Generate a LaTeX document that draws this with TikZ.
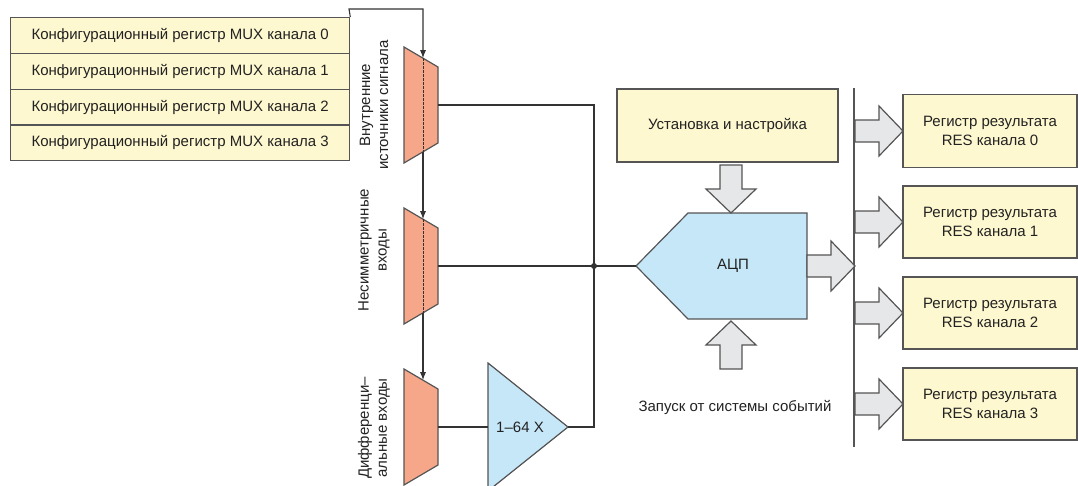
\documentclass[tikz,border=0pt]{standalone}
\usepackage{fontspec}
\setmainfont{Liberation Sans}
\usetikzlibrary{arrows.meta}
\definecolor{regY}{HTML}{FEF8D0}
\definecolor{muxR}{HTML}{F7A789}
\definecolor{adcB}{HTML}{C6E7F8}
\definecolor{arrG}{HTML}{E6E7E9}
\definecolor{lineK}{HTML}{333333}
\definecolor{edgeK}{HTML}{555555}
\definecolor{txtK}{HTML}{222222}
\tikzset{
  reg/.style={draw=edgeK, line width=1.3pt, fill=regY, inner sep=0pt, font=\fontsize{15}{19}\selectfont, text=txtK},
  muxshape/.style={draw=edgeK, line width=1.2pt, fill=muxR},
  adcshape/.style={draw=edgeK, line width=1.2pt, fill=adcB},
  wire/.style={draw=lineK, line width=1.1pt},
  arr/.style={wire, -{Latex[length=8pt,width=6pt]}},
  dashwire/.style={draw=lineK, line width=0.8pt, dash pattern=on 2.5pt off 1.5pt},
  fatstyle/.style={draw=edgeK, line width=1.2pt, fill=arrG},
  lbl/.style={font=\fontsize{15}{19}\selectfont, text=txtK, inner sep=0pt},
  rlbl/.style={font=\fontsize{15}{18}\selectfont, text=txtK, inner sep=0pt, rotate=90, align=center},
  fat/.pic={\draw[fatstyle] (0,-11) -- (24,-11) -- (24,-25) -- (48,0) -- (24,25) -- (24,11) -- (0,11) -- cycle;}
}
\begin{document}
\begin{tikzpicture}[x=1pt,y=-1pt]
\useasboundingbox (0,0) rectangle (1078,485);

% configuration registers
\node[reg, minimum width=339pt, minimum height=35.75pt, anchor=north west] (c0) at (10,17) {Конфигурационный регистр MUX канала 0};
\node[reg, minimum width=339pt, minimum height=35.75pt, anchor=north west] (c1) at (10,52.75) {Конфигурационный регистр MUX канала 1};
\node[reg, minimum width=339pt, minimum height=35.75pt, anchor=north west] (c2) at (10,88.5) {Конфигурационный регистр MUX канала 2};
\node[reg, minimum width=339pt, minimum height=35.75pt, anchor=north west] (c3) at (10,124.25) {Конфигурационный регистр MUX канала 3};

% muxes
\draw[muxshape] (404,47) -- (438,67) -- (438,143) -- (404,163) -- cycle;
\coordinate (m1top) at (423,58.2);
\coordinate (m1bot) at (423,151.8);
\coordinate (m1out) at (438,105);
\draw[muxshape] (404,208) -- (438,228) -- (438,304) -- (404,324) -- cycle;
\coordinate (m2top) at (423,219.2);
\coordinate (m2bot) at (423,312.8);
\coordinate (m2out) at (438,266);
\draw[muxshape] (404,369) -- (438,389) -- (438,465) -- (404,485) -- cycle;
\coordinate (m3top) at (423,380.2);
\coordinate (m3out) at (438,427);

\draw[dashwire] (m1top) -- (m1bot);
\draw[dashwire] (m2top) -- (m2bot);

% rotated labels
\node[rlbl] (l1) at (374,105) {Внутренние\\источники сигнала};
\node[rlbl] (l2) at (374,250) {Несимметричные\\входы};
\node[rlbl] (l3) at (374,428) {Дифференци–\\альные входы};

% control chain
\coordinate (bend1) at (349,9);
\coordinate (bend2) at (423,9);
\draw[arr] (c0.north east) -- (bend1) -- (bend2) -- (m1top);
\draw[arr] (m1bot) -- (m2top);
\draw[arr] (m2bot) -- (m3top);

% amplifier
\draw[adcshape] (488,363) -- (568,427) -- (488,491) -- cycle;
\coordinate (ampin) at (488,427);
\coordinate (ampout) at (568,427);
\node[lbl] (amptxt) at (520,427) {1–64 X};

% ADC
\draw[adcshape] (636,266) -- (688,213) -- (807,213) -- (807,319) -- (688,319) -- cycle;
\coordinate (adcin) at (636,266);
\node[lbl] (adctxt) at (733,266) {АЦП};

% wiring
\coordinate (junc) at (594,266);
\draw[wire] (m3out) -- (ampin);
\draw[wire] (m1out) -| (junc);
\draw[wire] (ampout) -| (junc);
\draw[wire] (m2out) -- (junc) -- (adcin);
\fill[lineK] (junc) circle (3pt);

% setup box
\node[reg, minimum width=221pt, minimum height=73pt] (setup) at (727.5,125.5) {Установка и настройка};
\pic[rotate=-90] at (731,165) {fat};
\pic[rotate=90] at (731,369) {fat};
\node[lbl] (trig) at (735,407) {Запуск от системы событий};

% bus
\coordinate (busT) at (854,88);
\coordinate (busB) at (854,447);
\draw[draw=edgeK, line width=1.3pt] (busT) -- (busB);
\pic at (807,266) {fat};

% result registers
\node[reg, minimum width=174pt, minimum height=73pt, align=center] (r0) at (990,131) {Регистр результата\\RES канала 0};
\node[reg, minimum width=174pt, minimum height=72pt, align=center] (r1) at (990,222) {Регистр результата\\RES канала 1};
\node[reg, minimum width=174pt, minimum height=72pt, align=center] (r2) at (990,313) {Регистр результата\\RES канала 2};
\node[reg, minimum width=174pt, minimum height=72pt, align=center] (r3) at (990,404) {Регистр результата\\RES канала 3};
\pic at (855,131) {fat};
\pic at (855,222) {fat};
\pic at (855,313) {fat};
\pic at (855,404) {fat};
\end{tikzpicture}
\end{document}
